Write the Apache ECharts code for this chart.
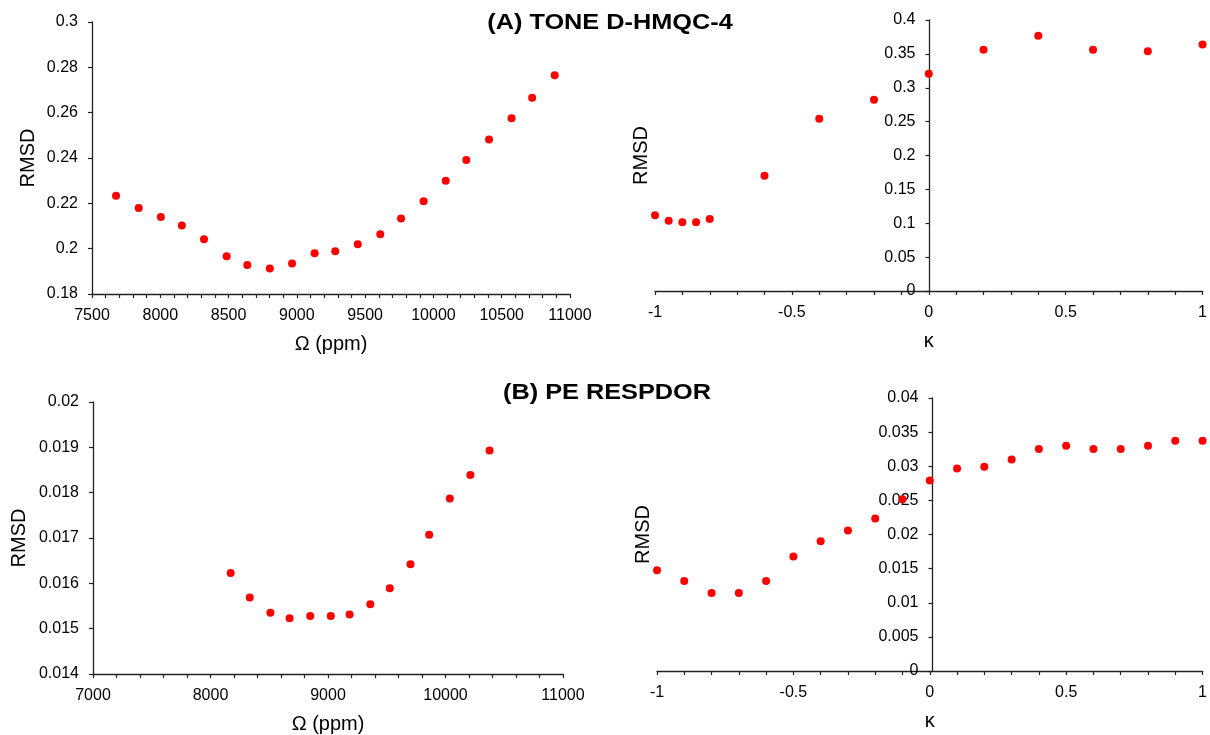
<!DOCTYPE html>
<html>
<head>
<meta charset="utf-8">
<script src="https://cdn.jsdelivr.net/npm/echarts@6/dist/echarts.min.js"></script>
<style>
html,body{margin:0;padding:0;background:#fff;}
#chart{width:1210px;height:735px;}
</style>
</head>
<body>
<div id="chart"></div>
<script>
// (A) TONE D-HMQC-4 : RMSD vs offset
const omegaA = [7676, 7842, 8004, 8158, 8320, 8486, 8637, 8802, 8965, 9130, 9281, 9446, 9611, 9763, 9928, 10090, 10241, 10407, 10572, 10723, 10888];
const rmsdOmegaA = [0.2233, 0.2179, 0.2140, 0.2102, 0.2042, 0.1967, 0.1928, 0.1913, 0.1935, 0.1980, 0.1989, 0.2019, 0.2064, 0.2133, 0.2209, 0.2300, 0.2391, 0.2482, 0.2575, 0.2666, 0.2765];
// (A) RMSD vs kappa
const kappaA = [-1, -0.95, -0.9, -0.85, -0.8, -0.6, -0.4, -0.2, 0, 0.2, 0.4, 0.6, 0.8, 1];
const rmsdKappaA = [0.1117, 0.1038, 0.1014, 0.1014, 0.1063, 0.1702, 0.2544, 0.2824, 0.3208, 0.3562, 0.3769, 0.3560, 0.3537, 0.3640];
// (B) PE RESPDOR : RMSD vs offset
const omegaB = [8172, 8334, 8510, 8673, 8849, 9024, 9184, 9360, 9526, 9702, 9861, 10037, 10212, 10375];
const rmsdOmegaB = [0.01623, 0.01569, 0.01535, 0.01523, 0.01528, 0.01528, 0.01531, 0.01554, 0.01589, 0.01642, 0.01707, 0.01787, 0.01839, 0.01893];
// (B) RMSD vs kappa
const kappaB = [-1, -0.9, -0.8, -0.7, -0.6, -0.5, -0.4, -0.3, -0.2, -0.1, 0, 0.1, 0.2, 0.3, 0.4, 0.5, 0.6, 0.7, 0.8, 0.9, 1];
const rmsdKappaB = [0.01477, 0.01320, 0.01144, 0.01144, 0.01320, 0.01677, 0.01902, 0.02059, 0.02235, 0.02518, 0.02792, 0.02968, 0.02993, 0.03100, 0.03252, 0.03301, 0.03252, 0.03252, 0.03301, 0.03374, 0.03374];

const titleA = '(A) TONE D-HMQC-4';
const titleB = '(B) PE RESPDOR';
const yName = 'RMSD';
const omegaName = 'Ω (ppm)';
const kappaName = 'κ';

const FONT = '"Liberation Sans", Arial, sans-serif';
const AX = '#222';
const TXT = '#000';

function pairs(xs, ys){ return xs.map((x,i)=>[x, ys[i]]); }
function plain(v){ return String(Math.round(v * 1e6) / 1e6); }

function xAxis(gi, min, max, interval, name){
  return {
    type:'value', gridIndex:gi, min:min, max:max, interval:interval,
    name:name, nameLocation:'middle', nameGap:40,
    nameTextStyle:{fontFamily:FONT, fontSize:20, color:TXT},
    axisLine:{onZero:false, lineStyle:{color:AX, width:1.3}},
    axisTick:{show:true, length:4, lineStyle:{color:AX, width:1.2}},
    minorTick:{show:true, splitNumber:5, length:4, lineStyle:{color:AX, width:1.2}},
    axisLabel:{fontFamily:FONT, fontSize:16, color:TXT, margin:14, formatter:plain},
    splitLine:{show:false}, minorSplitLine:{show:false}
  };
}
function yAxis(gi, min, max, interval, gap, offset){
  return {
    type:'value', gridIndex:gi, min:min, max:max, interval:interval, offset:offset,
    name:yName, nameLocation:'middle', nameGap:gap, nameRotate:90,
    nameTextStyle:{fontFamily:FONT, fontSize:20, color:TXT},
    axisLine:{show:true, onZero:false, lineStyle:{color:AX, width:1.3}},
    axisTick:{show:true, length:4, lineStyle:{color:AX, width:1.2}},
    axisLabel:{fontFamily:FONT, fontSize:16, color:TXT, margin:14, formatter:plain},
    splitLine:{show:false}
  };
}
function scatter(i, data){
  return {type:'scatter', xAxisIndex:i, yAxisIndex:i, data:data, symbolSize:8,
    itemStyle:{color:'#ff0000', opacity:1}, clip:false};
}

const chart = echarts.init(document.getElementById('chart'), null, {renderer:'canvas'});
chart.setOption({
  animation:false,
  backgroundColor:'#fff',
  grid:[
    {left:92, top:22, width:478, height:272},
    {left:655, top:20, width:549, height:271},
    {left:93, top:402, width:470, height:272},
    {left:657, top:398, width:551, height:273}
  ],
  xAxis:[
    xAxis(0, 7500, 11000, 500, omegaName),
    xAxis(1, -1, 1, 0.5, kappaName),
    xAxis(2, 7000, 11000, 1000, omegaName),
    xAxis(3, -1, 1, 0.5, kappaName)
  ],
  yAxis:[
    yAxis(0, 0.18, 0.3, 0.02, 54, 0),
    yAxis(1, 0, 0.4, 0.05, 278, -274.5),
    yAxis(2, 0.014, 0.02, 0.001, 64, 0),
    yAxis(3, 0, 0.04, 0.005, 279, -275.5)
  ],
  graphic:[
    {type:'text', x:610, y:23, scaleX:1.15, z:100,
      style:{text:titleA, font:'bold 22px ' + FONT, fill:TXT, textAlign:'center', textVerticalAlign:'middle', align:'center', verticalAlign:'middle'}},
    {type:'text', x:607, y:393, scaleX:1.15, z:100,
      style:{text:titleB, font:'bold 22px ' + FONT, fill:TXT, textAlign:'center', textVerticalAlign:'middle', align:'center', verticalAlign:'middle'}}
  ],
  series:[
    scatter(0, pairs(omegaA, rmsdOmegaA)),
    scatter(1, pairs(kappaA, rmsdKappaA)),
    scatter(2, pairs(omegaB, rmsdOmegaB)),
    scatter(3, pairs(kappaB, rmsdKappaB))
  ]
});
</script>
</body>
</html>
